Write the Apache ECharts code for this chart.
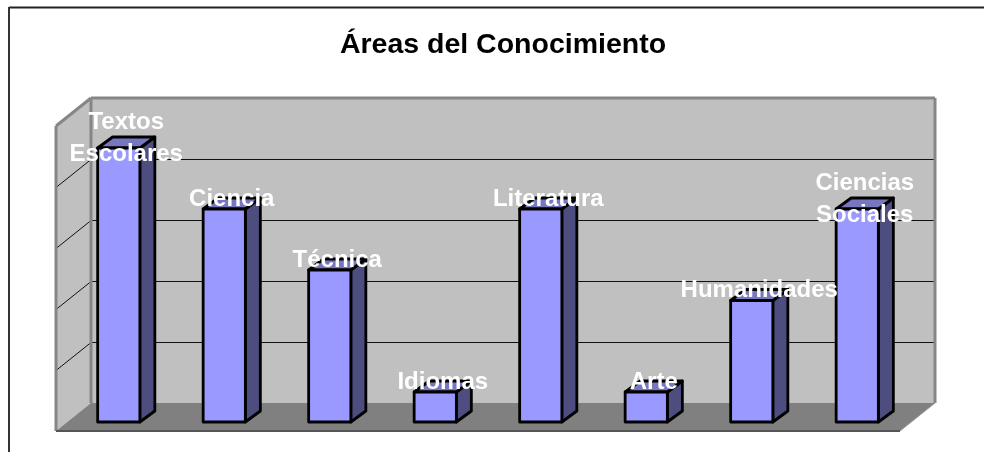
<!DOCTYPE html>
<html>
<head>
<meta charset="utf-8">
<style>html,body{margin:0;padding:0;background:#fff}#c{width:984px;height:452px}</style>
<script src="https://cdn.jsdelivr.net/npm/echarts@6/dist/echarts.min.js"></script>
</head>
<body>
<div id="c"></div>
<script>
const chartTitle = 'Áreas del Conocimiento';
const categories = ['Textos\nEscolares', 'Ciencia', 'Técnica', 'Idiomas', 'Literatura', 'Arte', 'Humanidades', 'Ciencias\nSociales'];
const values = [9, 7, 5, 1, 7, 1, 4, 7];
const gridTicks = [2, 4, 6, 8, 10];

const BACK = [25, -19], FRONT = [-10, 9], BAR_DEPTH = [15, -11];
const WALL = '#C0C0C0', EDGE = '#868686', FLOOR = '#808080';
const poly = (points, fill, stroke, lw, extra) => Object.assign({
  type: 'polygon', shape: { points },
  style: { fill, stroke: stroke || 'none', lineWidth: lw || 0, lineJoin: 'round' }
}, extra || {});
const line = (a, b, stroke, lw) => ({
  type: 'line', shape: { x1: a[0], y1: a[1], x2: b[0], y2: b[1] },
  style: { stroke, lineWidth: lw }
});
const add = (p, d) => [p[0] + d[0], p[1] + d[1]];

function renderWalls(params, api) {
  const cs = params.coordSys;
  const bl = [cs.x, api.coord([0, 0])[1]], br = [cs.x + cs.width, bl[1]];
  const tl = [cs.x, api.coord([0, 10])[1]], tr = [cs.x + cs.width, tl[1]];
  const bb = add(bl, BACK), bbr = add(br, BACK), bt = add(tl, BACK), btr = add(tr, BACK);
  const fb = add(bl, FRONT), fbr = add(br, FRONT), ft = add(tl, FRONT);
  const kids = [
    poly([bt, btr, bbr, bb], WALL),
    poly([ft, bt, bb, fb], WALL),
    poly([fb, bb, bbr, fbr], FLOOR)
  ];
  gridTicks.forEach(t => {
    if (t >= 10) return;
    const y = Math.floor(api.coord([0, t])[1]) + 0.5;
    const p = [cs.x, y];
    kids.push(line(add(p, FRONT), add(p, BACK), '#111', 1));
    kids.push(line(add(p, BACK), [cs.x + cs.width + BACK[0], y + BACK[1]], '#111', 1));
  });
  kids.push(line(fb, ft, EDGE, 3), line(ft, bt, EDGE, 3), line(bt, btr, EDGE, 3),
    line(btr, bbr, EDGE, 3), line(bt, bb, EDGE, 3), line(fb, fbr, '#555', 2),
    line(fbr, bbr, '#9a9a9a', 1));
  return { type: 'group', children: kids };
}

function renderBar(params, api) {
  const c = api.coord([api.value(0), api.value(1)]);
  const base = api.coord([api.value(0), 0]);
  const w = api.size([1, 0])[0] * 0.4;
  const a = [c[0] - w / 2, c[1] + 0.5], b = [c[0] + w / 2, c[1] + 0.5];
  const d = [c[0] + w / 2, base[1]], e = [c[0] - w / 2, base[1]];
  const S = '#000', L = 2.8;
  return { type: 'group', children: [
    poly([b, add(b, BAR_DEPTH), add(d, BAR_DEPTH), d], '#4D4D80', S, L),
    poly([a, add(a, BAR_DEPTH), add(b, BAR_DEPTH), b], '#7777BF', S, L),
    poly([a, b, d, e], '#9999FF', S, L)
  ] };
}

function renderLabel(params, api) {
  const c = api.coord([api.value(0), api.value(1)]);
  return { type: 'text', style: {
    text: categories[api.value(0)], x: c[0] + 7.5, y: c[1] - 9.5,
    align: 'center', verticalAlign: 'middle', lineHeight: 32,
    fill: '#fff', font: 'bold 24px "Liberation Sans", Arial, sans-serif'
  } };
}

const chart = echarts.init(document.getElementById('c'), null, { renderer: 'canvas' });
chart.setOption({
  animation: false,
  backgroundColor: '#fff',
  title: { text: chartTitle, left: 498, top: 26, textAlign: 'center',
    textStyle: { color: '#000', fontSize: 28.5, fontWeight: 'bold', fontFamily: '"Liberation Sans", Arial, sans-serif' } },
  graphic: [
    { type: 'line', shape: { x1: 9, y1: 7.5, x2: 984, y2: 7.5 }, style: { stroke: '#222', lineWidth: 2 } },
    { type: 'line', shape: { x1: 9, y1: 7, x2: 9, y2: 452 }, style: { stroke: '#333', lineWidth: 2 } }
  ],
  grid: { left: 66, width: 844, top: 117, height: 305 },
  xAxis: { type: 'category', data: categories, show: false },
  yAxis: { type: 'value', min: 0, max: 10, interval: 2, show: false },
  series: [
    { type: 'custom', z: 1, silent: true, clip: false, renderItem: renderWalls, data: [[0, 0]], encode: { x: 0, y: 1 } },
    { type: 'custom', z: 2, silent: true, clip: false, renderItem: renderBar,
      data: values.map((v, i) => [i, v]), encode: { x: 0, y: 1 } },
    { type: 'custom', z: 3, silent: true, clip: false, renderItem: renderLabel,
      data: values.map((v, i) => [i, v]), encode: { x: 0, y: 1 } }
  ]
});
</script>
</body>
</html>
